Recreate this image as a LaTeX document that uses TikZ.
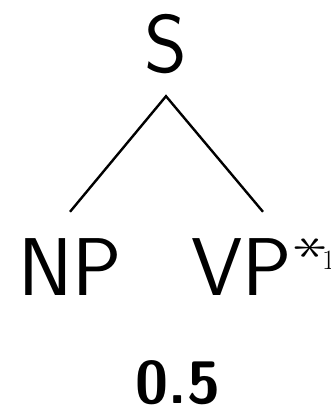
\documentclass[tikz,border=0pt]{standalone}
\usepackage{graphicx}
\usepackage{fontspec}
\setmainfont[Extension=.otf, BoldFont=lmsans10-bold]{lmsans17-regular}
\newfontfamily\serfont{Latin Modern Roman}
\newcommand{\rotast}{\scalebox{2.8}[2.0]{\rotatebox{90}{$\ast$}}}
\begin{document}
\begin{tikzpicture}[x=1pt,y=-1pt,
  lab/.style={font=\fontsize{82}{82}\selectfont, inner xsep=0pt, anchor=base},
  root/.style={lab, text depth=0pt, inner ysep=24pt},
  kid/.style={lab, text height=57pt, text depth=0pt, inner ysep=26pt},
  edge/.style={line width=2.4pt, line cap=butt}]
\useasboundingbox (0,0) rectangle (331,407);
\node[root] (S) at (166,72) {S};
\node[kid] (NP) at (70,295) {NP};
\node[kid] (VP) at (263,295) {VP\hspace{3pt}\raisebox{34.5pt}{\rotast}\hspace{-5pt}\raisebox{26pt}{\fontsize{28}{28}\serfont 1}\hspace{64pt}};
\node[lab, font=\fontsize{60}{60}\bfseries] (P) at (178,403) {0.5};
\draw[edge] (NP.north) -- (S.south) -- (VP.north);
\end{tikzpicture}
\end{document}
